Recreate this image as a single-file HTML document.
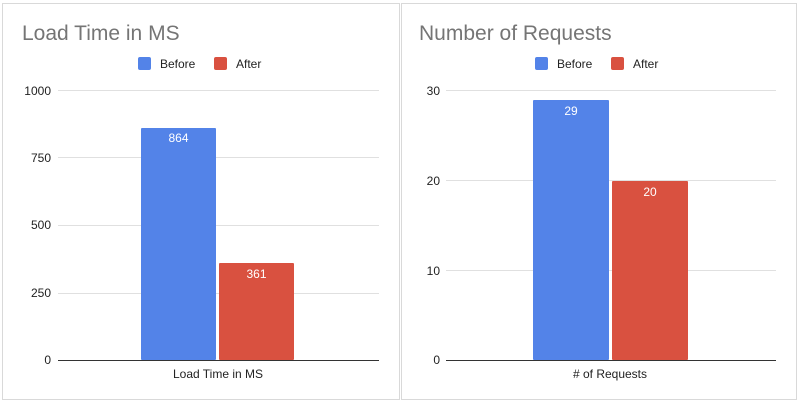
<!DOCTYPE html>
<html><head><style>
body{margin:0;background:#fff;}
svg text{font-family:"Liberation Sans",Arial,sans-serif;}
</style></head><body>
<svg width="800" height="404" xmlns="http://www.w3.org/2000/svg">
<rect x="2.5" y="3.5" width="397" height="396" fill="#fff" stroke="#d9d9d9"/>
<rect x="401.5" y="3.5" width="395" height="396" fill="#fff" stroke="#d9d9d9"/>
<!-- Left -->
<text x="22" y="40" font-size="21" fill="#757575">Load Time in MS</text>
<rect x="138" y="57" width="13" height="13" rx="2" fill="#5383e8"/>
<text x="160" y="68" font-size="12" fill="#222">Before</text>
<rect x="214" y="57" width="13" height="13" rx="2" fill="#d95140"/>
<text x="236" y="68" font-size="12" fill="#222">After</text>
<g stroke="#e0e0e0" stroke-width="1">
<line x1="58" y1="90.5" x2="379" y2="90.5"/><line x1="58" y1="157.5" x2="379" y2="157.5"/>
<line x1="58" y1="225.5" x2="379" y2="225.5"/><line x1="58" y1="293.5" x2="379" y2="293.5"/>
</g>
<g font-size="12" fill="#222" text-anchor="end">
<text x="51" y="95">1000</text><text x="51" y="162">750</text><text x="51" y="229">500</text><text x="51" y="297">250</text><text x="51" y="364">0</text>
</g>
<rect x="141" y="128" width="75" height="232" rx="1" fill="#5383e8"/>
<rect x="219" y="263" width="75" height="97" rx="1" fill="#d95140"/>
<text x="178.5" y="142" font-size="12" fill="#fff" text-anchor="middle">864</text>
<text x="256.5" y="278" font-size="12" fill="#fff" text-anchor="middle">361</text>
<line x1="58" y1="360.5" x2="379" y2="360.5" stroke="#333"/>
<text x="218" y="378" font-size="12" fill="#222" text-anchor="middle">Load Time in MS</text>
<!-- Right -->
<text x="419" y="40" font-size="21" fill="#757575">Number of Requests</text>
<rect x="535" y="57" width="13" height="13" rx="2" fill="#5383e8"/>
<text x="557" y="68" font-size="12" fill="#222">Before</text>
<rect x="611" y="57" width="13" height="13" rx="2" fill="#d95140"/>
<text x="633" y="68" font-size="12" fill="#222">After</text>
<g stroke="#e0e0e0" stroke-width="1">
<line x1="446" y1="90.5" x2="776" y2="90.5"/><line x1="446" y1="180.5" x2="776" y2="180.5"/>
<line x1="446" y1="270.5" x2="776" y2="270.5"/>
</g>
<g font-size="12" fill="#222" text-anchor="end">
<text x="440" y="95">30</text><text x="440" y="185">20</text><text x="440" y="275">10</text><text x="440" y="364">0</text>
</g>
<rect x="533" y="100" width="76" height="260" rx="1" fill="#5383e8"/>
<rect x="612" y="181" width="76" height="179" rx="1" fill="#d95140"/>
<text x="571" y="115" font-size="12" fill="#fff" text-anchor="middle">29</text>
<text x="650" y="196" font-size="12" fill="#fff" text-anchor="middle">20</text>
<line x1="446" y1="360.5" x2="776" y2="360.5" stroke="#333"/>
<text x="610" y="378" font-size="12" fill="#222" text-anchor="middle"># of Requests</text>
</svg>
</body></html>
